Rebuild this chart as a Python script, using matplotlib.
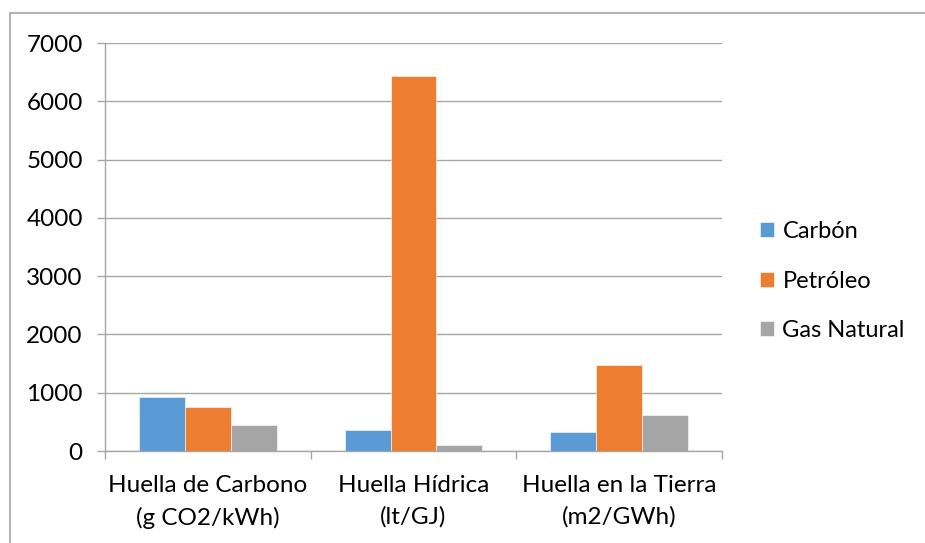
import matplotlib
matplotlib.use("Agg")
import matplotlib.pyplot as plt
import matplotlib.patches as mpatches
import numpy as np

# ── Data ──────────────────────────────────────────────────────────────────────

categories = ["Huella de Carbono\n(g CO2/kWh)",
              "Huella Hídrica\n(lt/GJ)",
              "Huella en la Tierra\n(m2/GWh)"]
series = ["Carbón", "Petróleo", "Gas Natural"]
carbon   = [920, 360, 320]
petroleo = [760, 6440, 1480]
gas      = [440, 100, 620]

colors = ["#5B9BD5", "#ED7D31", "#A5A5A5"]

# ── Plot ──────────────────────────────────────────────────────────────────────

plt.rcParams["font.family"] = ["Lato", "DejaVu Sans"]
FS = 17.5

fig = plt.figure(figsize=(9.25, 5.43), dpi=100)
ax = fig.add_axes([105 / 925, 1 - 451 / 543, 617 / 925, 408 / 543])

x = np.arange(len(categories))
w = 0.223
for i, (vals, name) in enumerate(zip([carbon, petroleo, gas], series)):
    ax.bar(x + (i - 1) * w, vals, width=w, color=colors[i], label=name,
           edgecolor="white", linewidth=0.4, zorder=3)

ax.set_xlim(-0.5, len(categories) - 0.5)
ax.set_ylim(0, 7000)
ax.set_yticks(range(0, 7001, 1000))
ax.grid(axis="y", color="#A6A6A6", linewidth=1.0, zorder=0)

ax.set_xticks(x)
ax.set_xticklabels(categories, fontsize=FS, linespacing=1.6)
ax.set_xticks(np.arange(-0.5, len(categories)), minor=True)
ax.tick_params(axis="x", which="major", length=0, pad=17)
ax.tick_params(axis="x", which="minor", length=6, color="#A6A6A6", width=1)
ax.tick_params(axis="y", length=6, color="#A6A6A6", width=1,
               labelsize=FS, pad=10)

for s in ["top", "right"]:
    ax.spines[s].set_visible(False)
for s in ["left", "bottom"]:
    ax.spines[s].set_color("#A6A6A6")
    ax.spines[s].set_linewidth(1)

leg = fig.legend(loc="center left", bbox_to_anchor=(760 / 925, 1 - 281 / 543),
                 frameon=False, fontsize=17, handlelength=0.6, borderpad=0,
                 borderaxespad=0, handleheight=0.6, handletextpad=0.35,
                 labelspacing=1.2)

# chart border
fig.patches.append(mpatches.Rectangle((10 / 925, -0.1), 1.0, 1.1 - 13 / 543,
                                      transform=fig.transFigure, fill=False,
                                      edgecolor="#A6A6A6", linewidth=1.2))

fig.savefig("out.png", dpi=100)
